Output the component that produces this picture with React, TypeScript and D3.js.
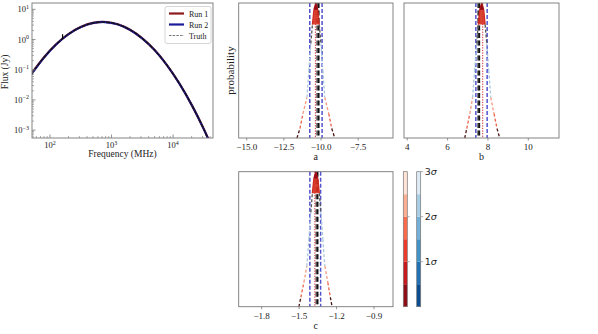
import React, { useEffect, useRef } from 'react';
import * as d3 from 'd3';

// SED panel data (frequency in MHz, flux in Jy)
const sedFreq = [50, 79.4, 125.9, 199.5, 316.2, 501.2, 794.3, 1259, 1995, 3162, 5012, 7943, 12589, 19953, 31623, 50119];
const truthFlux = [0.072, 0.251, 0.693, 1.51, 2.59, 3.52, 3.78, 3.19, 2.11, 1.09, 0.446, 0.142, 0.0355, 0.00697, 0.00107, 0.000129];
const run1Flux = [0.074, 0.255, 0.70, 1.52, 2.60, 3.55, 3.80, 3.21, 2.12, 1.10, 0.448, 0.143, 0.0357, 0.0070, 0.00108, 0.00013];
const run2Flux = [0.071, 0.249, 0.69, 1.50, 2.57, 3.50, 3.76, 3.17, 2.10, 1.08, 0.444, 0.141, 0.0353, 0.00694, 0.00106, 0.000128];
const bandLow = [0.064, 0.226, 0.63, 1.37, 2.32, 3.12, 3.35, 2.84, 1.90, 0.99, 0.41, 0.131, 0.0330, 0.0065, 0.00100, 0.00012];
const bandHigh = [0.082, 0.280, 0.77, 1.68, 2.90, 3.98, 4.26, 3.58, 2.35, 1.20, 0.488, 0.154, 0.0382, 0.0075, 0.00115, 0.00014];
const obsFreq = [160];
const obsFlux = [1.3];
const obsErr = [0.2];
const sedXTicks = [100, 1000, 10000];
const sedYTicks = [10, 1, 0.1, 0.01, 0.001];
const legendLabels = ['Run 1', 'Run 2', 'Truth'];

// posterior shapes: probability levels shared, x positions per parameter
const probLevels = [0, 0.07, 0.18, 0.3, 0.5, 0.7, 0.84, 0.95, 1.0, 0.95, 0.84, 0.7, 0.5, 0.3, 0.18, 0.07, 0];
const aCurve = [-11.62, -11.42, -11.22, -10.95, -10.82, -10.69, -10.58, -10.48, -10.35, -10.22, -10.12, -10.01, -9.88, -9.75, -9.48, -9.28, -9.08];
const bCurve = [6.85, 6.95, 7.10, 7.24, 7.34, 7.44, 7.52, 7.59, 7.69, 7.79, 7.86, 7.94, 8.04, 8.14, 8.30, 8.45, 8.58];
const cCurve = [-1.502, -1.486, -1.462, -1.438, -1.422, -1.406, -1.394, -1.382, -1.366, -1.350, -1.338, -1.326, -1.310, -1.294, -1.270, -1.250, -1.236];

// [run2 low, run2 high, truth, truth2, run1 median]
const aLines = [-10.76, -9.93, -10.25, -10.16, -10.38];
const bLines = [7.40, 7.96, 7.52, 7.57, 7.74];
const cLines = [-1.414, -1.328, -1.361, -1.352, -1.374];

const aTicks = [-15.0, -12.5, -10.0, -7.5];
const bTicks = [4, 6, 8, 10];
const cTicks = [-1.8, -1.5, -1.2, -0.9];

const sigmaLevels = [0, 0.5, 1, 1.5, 2, 2.5, 3];
const sigmaTicks = [1, 2, 3];
const redBands = ['#8e0c16', '#c9181d', '#ec3a2b', '#fa6a4b', '#fcae92', '#fee3d6'];
const blueBands = ['#0b4d8f', '#2171b5', '#4292c6', '#74b0d8', '#a8cfe5', '#deebf7'];

const SERIF = '"Liberation Serif", "Times New Roman", serif';
const SANS = '"DejaVu Sans", sans-serif';
const SPINE = '#777';

const fmtMinus = (v, digits) => {
  const s = digits ? v.toFixed(digits) : String(v);
  return s.replace('-', '\u2212');
};

const App = () => {
  const svgRef = useRef(null);

  useEffect(() => {
    const svg = d3.select(svgRef.current);
    svg.selectAll('*').remove();

    // ---------- SED panel ----------
    const sx = d3.scaleLog().domain([51, 44500]).range([32, 213]);
    const sy = d3.scaleLog().domain([0.00055, 16.2]).range([138, 3]);
    const sed = svg.append('g');

    const clip = svg.append('defs').append('clipPath').attr('id', 'sedclip');
    clip.append('rect').attr('x', 32).attr('y', 3).attr('width', 181).attr('height', 135);
    const plot = sed.append('g').attr('clip-path', 'url(#sedclip)');

    const idx = d3.range(sedFreq.length);
    const area = d3.area()
      .x(i => sx(sedFreq[i]))
      .y0(i => sy(bandLow[i]))
      .y1(i => sy(bandHigh[i]))
      .curve(d3.curveCatmullRom);
    plot.append('path').datum(idx).attr('d', area).attr('fill', '#c9c6ea').attr('opacity', 0.55);

    const mkLine = arr => d3.line()
      .x(i => sx(sedFreq[i]))
      .y(i => sy(arr[i]))
      .curve(d3.curveCatmullRom)(idx);

    plot.append('path').attr('d', mkLine(run1Flux)).attr('fill', 'none')
      .attr('stroke', '#8b1a1a').attr('stroke-width', 2.2);
    plot.append('path').attr('d', mkLine(run2Flux)).attr('fill', 'none')
      .attr('stroke', '#1c1c9a').attr('stroke-width', 2);
    plot.append('path').attr('d', mkLine(truthFlux)).attr('fill', 'none')
      .attr('stroke', '#111').attr('stroke-width', 1.3).attr('stroke-dasharray', '4,1');

    obsFreq.forEach((f, i) => {
      plot.append('line')
        .attr('x1', sx(f)).attr('x2', sx(f))
        .attr('y1', sy(obsFlux[i] + obsErr[i])).attr('y2', sy(obsFlux[i] - obsErr[i]))
        .attr('stroke', '#000').attr('stroke-width', 1.2);
    });

    // minor ticks (inward)
    const minorX = [];
    [1, 10, 100, 1000, 10000].forEach(d => { for (let k = 2; k <= 9; k++) minorX.push(d * k); });
    const xd = sx.domain();
    minorX.filter(v => v > xd[0] && v < xd[1]).forEach(v => {
      sed.append('line').attr('x1', sx(v)).attr('x2', sx(v)).attr('y1', 138).attr('y2', 136)
        .attr('stroke', SPINE).attr('stroke-width', 0.6);
    });
    const minorY = [];
    [0.0001, 0.001, 0.01, 0.1, 1, 10].forEach(d => { for (let k = 2; k <= 9; k++) minorY.push(d * k); });
    const yd = sy.domain();
    minorY.filter(v => v > yd[0] && v < yd[1]).forEach(v => {
      sed.append('line').attr('x1', 32).attr('x2', 34).attr('y1', sy(v)).attr('y2', sy(v))
        .attr('stroke', SPINE).attr('stroke-width', 0.6);
    });

    sedXTicks.forEach(v => {
      sed.append('line').attr('x1', sx(v)).attr('x2', sx(v)).attr('y1', 138).attr('y2', 134.5)
        .attr('stroke', SPINE).attr('stroke-width', 0.8);
      const t = sed.append('text').attr('x', sx(v)).attr('y', 148).attr('text-anchor', 'middle')
        .attr('font-family', SERIF).attr('font-size', 8.5).attr('fill', '#222');
      t.append('tspan').text('10');
      t.append('tspan').attr('dy', -3.5).attr('font-size', 6).text(String(Math.round(Math.log10(v))));
    });
    sedYTicks.forEach(v => {
      sed.append('line').attr('x1', 32).attr('x2', 35.5).attr('y1', sy(v)).attr('y2', sy(v))
        .attr('stroke', SPINE).attr('stroke-width', 0.8);
      const t = sed.append('text').attr('x', 29).attr('y', sy(v) + 3).attr('text-anchor', 'end')
        .attr('font-family', SERIF).attr('font-size', 8.5).attr('fill', '#222');
      t.append('tspan').text('10');
      t.append('tspan').attr('dy', -3.5).attr('font-size', 6).text(fmtMinus(Math.round(Math.log10(v))));
    });

    sed.append('rect').attr('x', 32).attr('y', 3).attr('width', 181).attr('height', 135)
      .attr('fill', 'none').attr('stroke', SPINE).attr('stroke-width', 0.9);

    sed.append('text').attr('x', 122.5).attr('y', 157).attr('text-anchor', 'middle')
      .attr('font-family', SERIF).attr('font-size', 9.5).attr('fill', '#222').text('Frequency (MHz)');
    sed.append('text').attr('transform', 'translate(8,72) rotate(-90)').attr('text-anchor', 'middle')
      .attr('font-family', SERIF).attr('font-size', 9.5).attr('fill', '#222').text('Flux (Jy)');

    // legend
    const lg = sed.append('g').attr('transform', 'translate(165,6.5)');
    lg.append('rect').attr('width', 46).attr('height', 37).attr('rx', 2)
      .attr('fill', '#fff').attr('fill-opacity', 0.85).attr('stroke', '#ccc').attr('stroke-width', 0.8);
    const legStyles = [
      { c: '#8b1a1a', w: 2.2, d: null },
      { c: '#1c1c9a', w: 2.2, d: null },
      { c: '#555', w: 0.8, d: '2.5,1.2' },
    ];
    legendLabels.forEach((lab, i) => {
      const yy = 7 + i * 11;
      lg.append('line').attr('x1', 4).attr('x2', 19).attr('y1', yy).attr('y2', yy)
        .attr('stroke', legStyles[i].c).attr('stroke-width', legStyles[i].w)
        .attr('stroke-dasharray', legStyles[i].d);
      lg.append('text').attr('x', 24).attr('y', yy + 3).attr('font-family', SERIF)
        .attr('font-size', 8).attr('fill', '#222').text(lab);
    });

    // ---------- posterior panels ----------
    const segColors = ['#4a1410', '#e9634a', '#f59a80', '#a9c7dd', '#a9c7dd', '#555555', '#cf2a22', '#a3101a'];

    const drawPosterior = (x0, x1, y0, y1, domain, ticks, digits, curveX, lines, label, ylabel) => {
      const g = svg.append('g');
      const x = d3.scaleLinear().domain(domain).range([x0, x1]);
      const y = d3.scaleLinear().domain([0, 1]).range([y1, y0]);

      // credible interval / truth / median lines
      [lines[0], lines[1]].forEach(v => {
        g.append('line').attr('x1', x(v)).attr('x2', x(v)).attr('y1', y0).attr('y2', y1)
          .attr('stroke', '#5252cf').attr('stroke-width', 1.5).attr('stroke-dasharray', '4,2');
      });
      g.append('line').attr('x1', x(lines[2])).attr('x2', x(lines[2])).attr('y1', y0).attr('y2', y1)
        .attr('stroke', '#666').attr('stroke-width', 2.2).attr('stroke-dasharray', '5,2.5');
      g.append('line').attr('x1', x(lines[3])).attr('x2', x(lines[3])).attr('y1', y0).attr('y2', y1)
        .attr('stroke', '#111').attr('stroke-width', 1.8).attr('stroke-dasharray', '5,2.5');
      g.append('line').attr('x1', x(lines[3]) + 1.8).attr('x2', x(lines[3]) + 1.8).attr('y1', y0).attr('y2', y1)
        .attr('stroke', '#fff').attr('stroke-width', 0.8).attr('stroke-dasharray', '2,2');
      g.append('line').attr('x1', x(lines[4])).attr('x2', x(lines[4])).attr('y1', y0).attr('y2', y1)
        .attr('stroke', '#d0303a').attr('stroke-width', 1).attr('stroke-dasharray', '1.3,1.3');

      // peak fill
      const peakIdx = d3.range(curveX.length).filter(i => probLevels[i] >= 0.84);
      const poly = d3.line().x(i => x(curveX[i])).y(i => y(probLevels[i]));
      g.append('path').attr('d', poly(peakIdx) + 'Z').attr('fill', '#d7301f').attr('opacity', 0.9);
      const coreIdx = d3.range(curveX.length).filter(i => probLevels[i] >= 0.95);
      g.append('path').attr('d', poly(coreIdx) + 'Z').attr('fill', '#8e0c16');

      // dashed contour-coloured outline
      const n = curveX.length;
      for (let i = 0; i < n - 1; i++) {
        const si = i < (n - 1) / 2 ? i : n - 2 - i;
        g.append('line')
          .attr('x1', x(curveX[i])).attr('y1', y(probLevels[i]))
          .attr('x2', x(curveX[i + 1])).attr('y2', y(probLevels[i + 1]))
          .attr('stroke', segColors[si]).attr('stroke-width', 1.3)
          .attr('stroke-dasharray', si >= 6 ? null : '3,2');
      }

      g.append('rect').attr('x', x0).attr('y', y0).attr('width', x1 - x0).attr('height', y1 - y0)
        .attr('fill', 'none').attr('stroke', SPINE).attr('stroke-width', 0.9);

      ticks.forEach(v => {
        g.append('line').attr('x1', x(v)).attr('x2', x(v)).attr('y1', y1).attr('y2', y1 + 2.5)
          .attr('stroke', SPINE).attr('stroke-width', 0.8);
        g.append('text').attr('x', x(v)).attr('y', y1 + 12).attr('text-anchor', 'middle')
          .attr('font-family', SERIF).attr('font-size', 9).attr('fill', '#222')
          .text(fmtMinus(v, digits));
      });
      g.append('text').attr('x', (x0 + x1) / 2).attr('y', y1 + 22).attr('text-anchor', 'middle')
        .attr('font-family', SERIF).attr('font-size', 10).attr('fill', '#222').text(label);
      if (ylabel) {
        g.append('text').attr('transform', `translate(${x0 - 5},${(y0 + y1) / 2}) rotate(-90)`)
          .attr('text-anchor', 'middle').attr('font-family', SERIF).attr('font-size', 11)
          .attr('fill', '#222').text(ylabel);
      }
    };

    drawPosterior(238.7, 393, 3, 138, [-15.54, -5.16], aTicks, 1, aCurve, aLines, 'a', 'probability');
    drawPosterior(404, 559, 3, 138, [3.84, 11.52], bTicks, 0, bCurve, bLines, 'b', null);
    drawPosterior(238.7, 393, 171.7, 306.7, [-1.984, -0.748], cTicks, 1, cCurve, cLines, 'c', null);

    // ---------- sigma colourbars ----------
    const cy = d3.scaleLinear().domain([0, 3]).range([306.7, 171.7]);
    const drawBar = (bx, colors, tickSet, labels) => {
      const g = svg.append('g');
      colors.forEach((c, i) => {
        g.append('rect').attr('x', bx).attr('y', cy(sigmaLevels[i + 1]))
          .attr('width', 4).attr('height', cy(sigmaLevels[i]) - cy(sigmaLevels[i + 1]))
          .attr('fill', c);
      });
      g.append('rect').attr('x', bx).attr('y', cy(3)).attr('width', 4).attr('height', cy(0) - cy(3))
        .attr('fill', 'none').attr('stroke', SPINE).attr('stroke-width', 0.7);
      tickSet.forEach(v => {
        g.append('line').attr('x1', bx + 4).attr('x2', bx + 6.5).attr('y1', cy(v)).attr('y2', cy(v))
          .attr('stroke', '#999').attr('stroke-width', 0.8);
        if (labels) {
          const t = g.append('text').attr('x', bx + 8).attr('y', cy(v) + 3.3)
            .attr('font-family', SANS).attr('font-size', 9.5).attr('fill', '#222');
          t.append('tspan').text(String(v));
          t.append('tspan').attr('font-style', 'italic').text('\u03c3');
        }
      });
    };
    drawBar(403.3, redBands, [1, 2], false);
    drawBar(416.7, blueBands, sigmaTicks, true);
  }, []);

  return (
    <svg ref={svgRef} width={598} height={334}
      style={{ position: 'absolute', left: 0, top: 0, background: '#fff' }} />
  );
};

export default App;
